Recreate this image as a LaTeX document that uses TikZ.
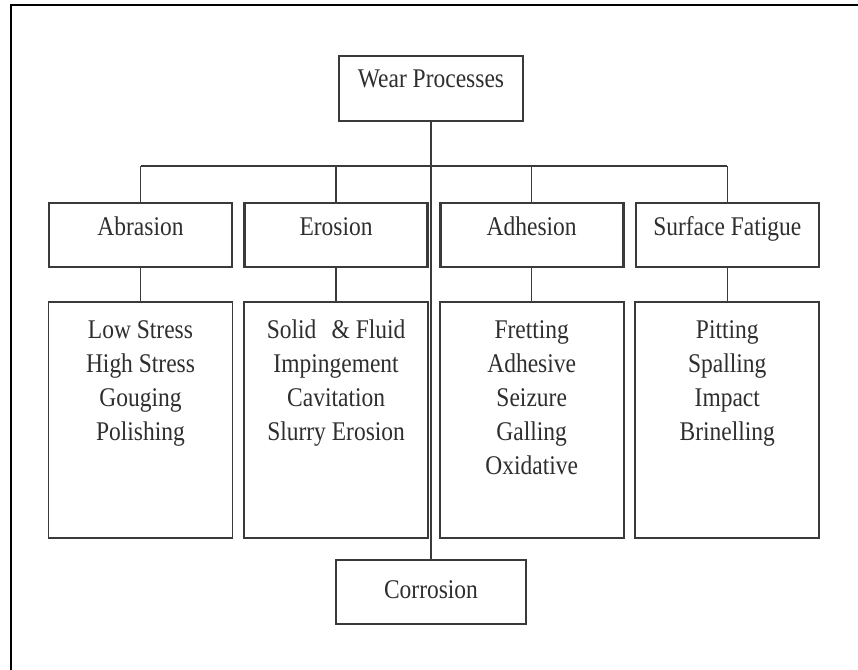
\documentclass[tikz,border=0pt]{standalone}
\usepackage{fontspec}
\setmainfont{Liberation Serif}[FakeStretch=0.87]
\usepackage{xcolor}
\usepackage{tikz}
\usetikzlibrary{positioning}
\definecolor{ink}{HTML}{2E2E2E}
\definecolor{edge}{HTML}{3A3A3A}
\newcommand{\itemstack}[1]{\begin{tabular}[t]{@{}c@{}}#1\end{tabular}}
\tikzset{
    box/.style={rectangle, draw=edge, align=center, text=ink, inner xsep=0pt, inner ysep=0pt,
        font=\fontsize{27}{34}\selectfont},
    topbox/.style={box, line width=2.6pt, minimum width=184pt, text height=31pt, text depth=34pt},
    catbox/.style={box, line width=2.6pt, minimum width=183pt, text height=32pt, text depth=32pt},
    listbox/.style={box, line width=1.8pt, minimum width=184pt, text height=36pt, text depth=200pt},
    corrbox/.style={box, line width=2pt, minimum width=190pt, text height=38pt, text depth=26pt},
    link/.style={draw=edge, line width=1.4pt},
}
\begin{document}
\begin{tikzpicture}[x=1pt, y=-1pt, node distance=10pt]
    \useasboundingbox (0,0) rectangle (858,669);
    \clip (0,0) rectangle (858,669);
    \draw[line width=2pt] (11,5) rectangle (880,690);
    \coordinate (bus) at (0,166);
    \node[topbox] (wear) at (431,88.5) {Wear Processes};
    \node[catbox] (abr) at (140.5,235) {Abrasion};
    \node[catbox, right=of abr] (ero) {Erosion};
    \node[catbox, right=of ero] (adh) {Adhesion};
    \node[catbox, right=of adh] (sf) {Surface Fatigue};
    \node[listbox, below=33pt of abr] (abrlist) {\itemstack{Low Stress\\High Stress\\Gouging\\Polishing}};
    \node[listbox, below=33pt of ero] (erolist) {\itemstack{Solid\hspace{0.35em} \& Fluid\\Impingement\\Cavitation\\Slurry Erosion}};
    \node[listbox, below=33pt of adh] (adhlist) {\itemstack{Fretting\\Adhesive\\Seizure\\Galling\\Oxidative}};
    \node[listbox, below=33pt of sf] (sflist) {\itemstack{Pitting\\Spalling\\Impact\\Brinelling}};
    \node[corrbox] (corr) at (431,592) {Corrosion};
    \draw[link] (wear) -- (corr);
    \draw[link] (abr.north |- bus) -- (sf.north |- bus);
    \foreach \n in {abr,ero,adh,sf}{
        \draw[link] (\n.north |- bus) -- (\n.north);
        \draw[link] (\n) -- (\n list);
    }
\end{tikzpicture}
\end{document}
